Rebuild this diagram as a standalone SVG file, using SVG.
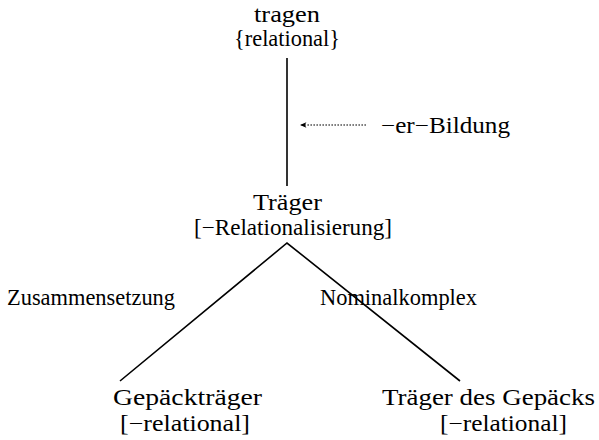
<svg xmlns="http://www.w3.org/2000/svg" width="599" height="440" viewBox="0 0 599 440">
  <style>
    text { font-family: "Liberation Serif", "Times New Roman", serif; font-size: 22.5px; fill: #000; }
    .edge { stroke: #000; stroke-width: 1.6; fill: none; }
    .dash { stroke: #000; stroke-width: 1.1; stroke-dasharray: 1.6 1.4; fill: none; }
  </style>
  <defs>
    <marker id="arr" viewBox="0 0 10 10" refX="9" refY="5" markerWidth="8" markerHeight="8" orient="auto" markerUnits="userSpaceOnUse">
      <path d="M1,1.5 L9,5 L1,8.5 L3,5 Z" fill="#000"/>
    </marker>
  </defs>
  <rect width="599" height="440" fill="#fff"/>

  <g id="connectors">
    <line class="edge" x1="287" y1="58" x2="287" y2="186"/>
    <polyline class="edge" points="120,381 287,243 460,381"/>
    <line class="dash" x1="366" y1="125" x2="300" y2="125" marker-end="url(#arr)"/>
    <text x="381" y="133" textLength="129" lengthAdjust="spacingAndGlyphs">−er−Bildung</text>
    <text x="7" y="305" textLength="168" lengthAdjust="spacingAndGlyphs">Zusammensetzung</text>
    <text x="320" y="305" textLength="157" lengthAdjust="spacingAndGlyphs">Nominalkomplex</text>
  </g>

  <g id="tragen">
    <text x="254" y="22" textLength="66" lengthAdjust="spacingAndGlyphs">tragen</text>
    <text x="234" y="46" textLength="106" lengthAdjust="spacingAndGlyphs">{relational}</text>
  </g>

  <g id="traeger">
    <text x="253" y="210" textLength="69" lengthAdjust="spacingAndGlyphs">Träger</text>
    <text x="194" y="235" textLength="198" lengthAdjust="spacingAndGlyphs">[−Relationalisierung]</text>
  </g>

  <g id="gepaecktraeger">
    <text x="113" y="405" textLength="149" lengthAdjust="spacingAndGlyphs">Gepäckträger</text>
    <text x="120" y="431" textLength="130" lengthAdjust="spacingAndGlyphs">[−relational]</text>
  </g>

  <g id="traeger-des-gepaecks">
    <text x="382" y="405" textLength="213" lengthAdjust="spacingAndGlyphs">Träger des Gepäcks</text>
    <text x="440" y="431" textLength="127" lengthAdjust="spacingAndGlyphs">[−relational]</text>
  </g>
</svg>
